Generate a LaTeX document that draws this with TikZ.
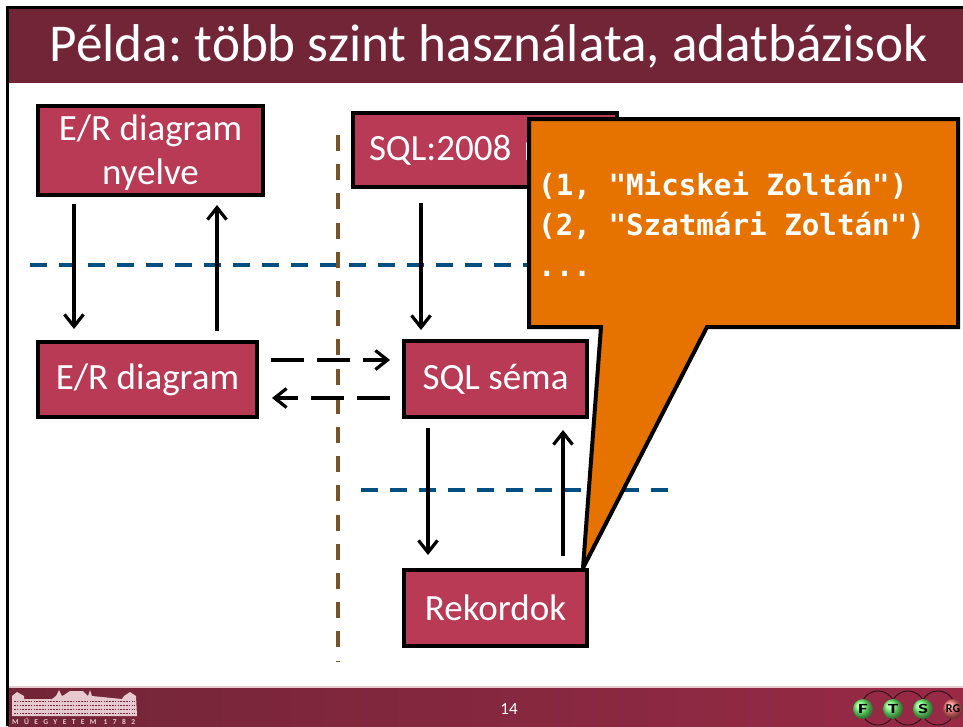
\documentclass[tikz,border=0pt]{standalone}
\usepackage{fontspec}
\setmainfont{Carlito}
\newfontfamily\codefont{DejaVu Sans Mono}
\usetikzlibrary{arrows.meta,shadings,calc}
\definecolor{barDark}{HTML}{722537}
\definecolor{barLight}{HTML}{982A46}
\definecolor{boxFill}{HTML}{B83A55}
\definecolor{calloutFill}{HTML}{E67300}
\definecolor{levelBlue}{HTML}{004F80}
\definecolor{splitBrown}{HTML}{76522B}
\definecolor{logoLight}{HTML}{E8C9CF}
\tikzset{
  box/.style={draw=black,line width=4pt,fill=boxFill,text=white,align=center,inner sep=0pt,font=\frenchspacing\fontsize{37}{44}\selectfont,line join=miter},
  flow/.style={line width=3.2pt,draw=black,-{Straight Barb[length=12pt,width=19pt,line width=3.2pt]}},
  flowdash/.style={flow,dash pattern=on 33pt off 13pt},
  levelline/.style={line width=3.4pt,draw=levelBlue,dash pattern=on 17pt off 12pt},
  splitline/.style={line width=3.4pt,draw=splitBrown,dash pattern=on 16pt off 13.2pt},
  ball/.style={circle,minimum size=20pt,inner sep=0pt,font=\bfseries\fontsize{14}{14}\selectfont\addfontfeature{FakeStretch=1.5}},
  loopline/.style={line width=.9pt,draw=black!60!barDark}
}
\begin{document}
\begin{tikzpicture}[x=1pt,y=-1pt]
\useasboundingbox (0,0) rectangle (963,726);
\fill[white] (0,0) rectangle (963,726);
% bars
\fill[barDark] (8,8) rectangle (963,83);
\shade[left color=barDark,right color=barLight] (8,687) rectangle (963,726);
\draw[line width=2pt,logoLight] (8,686.5) -- (963,686.5);
\draw[line width=2.4pt,black] (7.5,726) -- (7.5,7.5) -- (963,7.5);
\node[anchor=center,text=white,font=\frenchspacing\fontsize{53.2}{58}\selectfont,inner sep=0pt] (title) at (489,46) {Példa: több szint használata, adatbázisok};
% level and split lines
\coordinate (levelA1) at (30,265);
\coordinate (levelA2) at (540,265);
\coordinate (levelB1) at (361,490);
\coordinate (levelB2) at (668,490);
\coordinate (splitTop) at (338,135);
\coordinate (splitBottom) at (338,662);
\draw[levelline] (levelA1) -- (levelA2);
\draw[levelline] (levelB1) -- (levelB2);
\draw[splitline] (splitTop) -- (splitBottom);
% boxes
\node[box,minimum width=225pt,minimum height=89pt] (erlang) at (150.5,150.5) {\raisebox{-11.5pt}[0pt][0pt]{E/R diagram}\\\raisebox{-11.5pt}[0pt][0pt]{nyelve}};
\node[box,minimum width=264pt,minimum height=74pt,text width=232pt,align=left] (sqllang) at (485,150) {SQL:2008 m};
\node[box,minimum width=219pt,minimum height=75pt] (er) at (147.5,379.5) {E/R diagram};
\node[box,minimum width=183pt,minimum height=76pt] (sql) at (495.5,379) {SQL séma};
\node[box,minimum width=183pt,minimum height=76pt] (rec) at (495.5,608) {Rekordok};
% arrows
\coordinate (a1s) at (74,204); \coordinate (a1e) at (74,329);
\coordinate (a2s) at (217,331); \coordinate (a2e) at (217,205);
\coordinate (a3s) at (421,203); \coordinate (a3e) at (421,330);
\coordinate (a4s) at (271,360); \coordinate (a4e) at (390,360);
\coordinate (a5s) at (390,398); \coordinate (a5e) at (272,398);
\coordinate (a6s) at (428,428); \coordinate (a6e) at (428,555);
\coordinate (a7s) at (563,556); \coordinate (a7e) at (563,430);
\draw[flow] (a1s) -- (a1e);
\draw[flow] (a2s) -- (a2e);
\draw[flow] (a3s) -- (a3e);
\draw[flowdash] (a4s) -- (a4e);
\draw[flowdash] (a5s) -- (a5e);
\draw[flow] (a6s) -- (a6e);
\draw[flow] (a7s) -- (a7e);
% callout
\coordinate (tip) at (583,568);
\draw[line width=4pt,fill=calloutFill,line join=miter,miter limit=4] (529,119) -- (958,119) -- (958,327) -- (707,327) -- (tip) -- (601,327) -- (529,327) -- cycle;
\node[anchor=west,text=white,inner sep=0pt,align=left,font=\codefont\bfseries\fontsize{29.2}{40.5}\selectfont] (code) at (538,224) {(1, "Micskei Zoltán")\\(2, "Szatmári Zoltán")\\...};
% footer
\node[text=white,font=\fontsize{17}{17}\selectfont,inner sep=0pt] (page) at (509,709) {14};
% building logo
\fill[logoLight] (12,696) -- (17,692) -- (24,696) -- (24,699) -- (52,699) -- (56,696) -- (59,690) -- (62,696) -- (64,695) -- (70,691) -- (83,691) -- (88,696) -- (90,690) -- (92,696) -- (122,699) -- (124,696) -- (130,692) -- (136,696) -- (137,716) -- (12,716) -- cycle;
\foreach \yy in {701,705,709,713}{\draw[barDark,line width=1pt,dash pattern=on 1.6pt off 1.2pt] (14,\yy) -- (135,\yy);}
\node[anchor=west,text=logoLight,inner sep=0pt,font=\bfseries\fontsize{7.5}{8}\selectfont\addfontfeature{LetterSpace=72}] (logotext) at (12,721) {MŰEGYETEM 1782};
% FTSRG balls
\foreach \cx in {878,908,938}{\draw[loopline] (\cx,708) circle (17pt);}
\node[ball,ball color=green!55!white,text=black] (f) at (863,709) {F};
\node[ball,ball color=green!55!white,text=black] (t) at (893,709) {T};
\node[ball,ball color=green!55!white,text=black] (s) at (923,709) {S};
\node[ball,ball color=red!55!white,text=black,font=\bfseries\fontsize{12}{12}\selectfont] (rg) at (953,709) {RG};
\end{tikzpicture}
\end{document}
